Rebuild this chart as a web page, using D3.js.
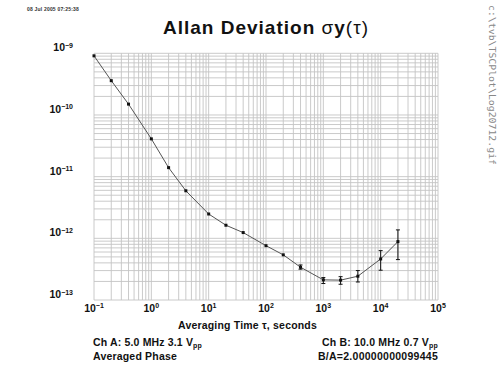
<!DOCTYPE html>
<html><head><meta charset="utf-8">
<script src="https://cdn.jsdelivr.net/npm/d3@7"></script>
<style>body{margin:0;background:#fff}svg{display:block}</style>
</head><body><svg id="c" width="500" height="375"></svg>
<script>
const taus = [0.1,0.2,0.4,1,2,4,10,20,40,100,200,400,1000,2000,4000,10000,20000];
const adev = [9.1e-10,3.6e-10,1.5e-10,4.1e-11,1.4e-11,5.9e-12,2.48e-12,1.63e-12,1.24e-12,7.6e-13,5.4e-13,3.4e-13,2.12e-13,2.1e-13,2.43e-13,4.63e-13,8.85e-13];
const errTaus = [400,1000,2000,4000,10000,20000];
const errLo = [3.16e-13,1.85e-13,1.80e-13,1.96e-13,3.04e-13,4.52e-13];
const errHi = [3.7e-13,2.31e-13,2.39e-13,3.0e-13,6.32e-13,1.37e-12];
const xTickExp = [-1,0,1,2,3,4,5];
const yTickExp = [-9,-10,-11,-12,-13];

const svg = d3.select('#c');
const L=94,R=438,T=53.3,B=300;
const x = d3.scaleLog().domain([1e-1,1e5]).range([L,R]);
const y = d3.scaleLog().domain([1e-13,1e-9]).range([B,T]);
const font = 'Liberation Sans, Arial, sans-serif';

function fit(sel, w){
  const n = sel.node();
  const cur = n.getComputedTextLength();
  const chars = n.textContent.length;
  sel.attr('letter-spacing', ((w-cur)/chars).toFixed(3));
}

// grid
const g = svg.append('g');
const xg = [];
for (let e=-1;e<5;e++) for (let m=1;m<10;m++) xg.push(m*Math.pow(10,e));
xg.push(1e5);
const yg = [];
for (let e=-13;e<-9;e++) for (let m=1;m<10;m++) yg.push(m*Math.pow(10,e));
yg.push(1e-9);
g.selectAll('line.vx').data(xg).join('line').attr('x1',d=>x(d)).attr('x2',d=>x(d)).attr('y1',T).attr('y2',B)
  .attr('stroke','#c4c4c4').attr('stroke-width',0.9);
g.selectAll('line.hy').data(yg).join('line').attr('y1',d=>y(d)).attr('y2',d=>y(d)).attr('x1',L).attr('x2',R)
  .attr('stroke','#c4c4c4').attr('stroke-width',0.9);

// tick labels
const xl = svg.append('g').attr('font-family',font).attr('font-weight','bold').attr('font-size',10.5).attr('fill','#111');
xTickExp.forEach(e=>{
  const t = xl.append('text').attr('x',x(Math.pow(10,e))).attr('y',311.5).attr('text-anchor','middle');
  t.append('tspan').text('10');
  t.append('tspan').attr('font-size',7).attr('dy',-3.5).text(e<0?'\u2212'+(-e):e);
});
yTickExp.forEach(e=>{
  const t = xl.append('text').attr('x',73).attr('y',y(Math.pow(10,e))-2).attr('text-anchor','end');
  t.append('tspan').text('10');
  t.append('tspan').attr('font-size',7).attr('dy',-3.5).text('\u2212'+(-e));
});

// line
const pts = taus.map((t,i)=>[t,adev[i]]);
svg.append('path').datum(pts).attr('fill','none').attr('stroke','#555').attr('stroke-width',1)
  .attr('d',d3.line().x(d=>x(d[0])).y(d=>y(d[1])));
// error bars
errTaus.forEach((t,i)=>{
  const cx=x(t);
  svg.append('line').attr('x1',cx).attr('x2',cx).attr('y1',y(errLo[i])).attr('y2',y(errHi[i])).attr('stroke','#111').attr('stroke-width',1);
  [errLo[i],errHi[i]].forEach(v=>svg.append('line').attr('x1',cx-2).attr('x2',cx+2).attr('y1',y(v)).attr('y2',y(v)).attr('stroke','#111').attr('stroke-width',1));
});
svg.selectAll('rect.m').data(pts).join('rect').attr('x',d=>x(d[0])-1.5).attr('y',d=>y(d[1])-1.5)
  .attr('width',3).attr('height',3).attr('fill','#111');

// texts
const dt = svg.append('text').attr('x',27).attr('y',11).attr('font-family',font).attr('font-weight','bold').attr('font-size',5).attr('fill','#333').text('08 Jul 2005 07:25:38');
fit(dt,52);
const tt = svg.append('text').attr('x',163).attr('y',34).attr('font-family',font).attr('font-weight','bold').attr('font-size',19).attr('fill','#111');
tt.append('tspan').text('Allan Deviation ');
tt.append('tspan').attr('font-weight','normal').text('\u03c3');
tt.append('tspan').text('y');
tt.append('tspan').attr('font-weight','normal').text('(\u03c4)');
fit(tt,206);

const xt = svg.append('text').attr('x',178).attr('y',328.5).attr('font-family',font).attr('font-weight','bold').attr('font-size',10.5).attr('fill','#111').text('Averaging Time \u03c4, seconds');
fit(xt,139);
const b = svg.append('g').attr('font-family',font).attr('font-weight','bold').attr('font-size',10.5).attr('fill','#111');
const a1 = b.append('text').attr('x',93).attr('y',346);
a1.append('tspan').text('Ch A: 5.0 MHz 3.1 V');
a1.append('tspan').attr('font-size',7).attr('dy',2).text('pp');
fit(a1,109);
fit(b.append('text').attr('x',93).attr('y',360).text('Averaged Phase'),84);
const b1 = b.append('text').attr('x',322).attr('y',346);
b1.append('tspan').text('Ch B: 10.0 MHz 0.7 V');
b1.append('tspan').attr('font-size',7).attr('dy',2).text('pp');
fit(b1,116);
fit(b.append('text').attr('x',318).attr('y',360).text('B/A=2.00000000099445'),120);

svg.append('text').attr('transform','translate(489,5) rotate(90)').attr('font-family','DejaVu Sans Mono, monospace').attr('font-size',9.5).attr('fill','#888')
  .attr('textLength',160).attr('lengthAdjust','spacingAndGlyphs').text('c:\\tvb\\TSCPlot\\Log20712.gif');
</script></body></html>
